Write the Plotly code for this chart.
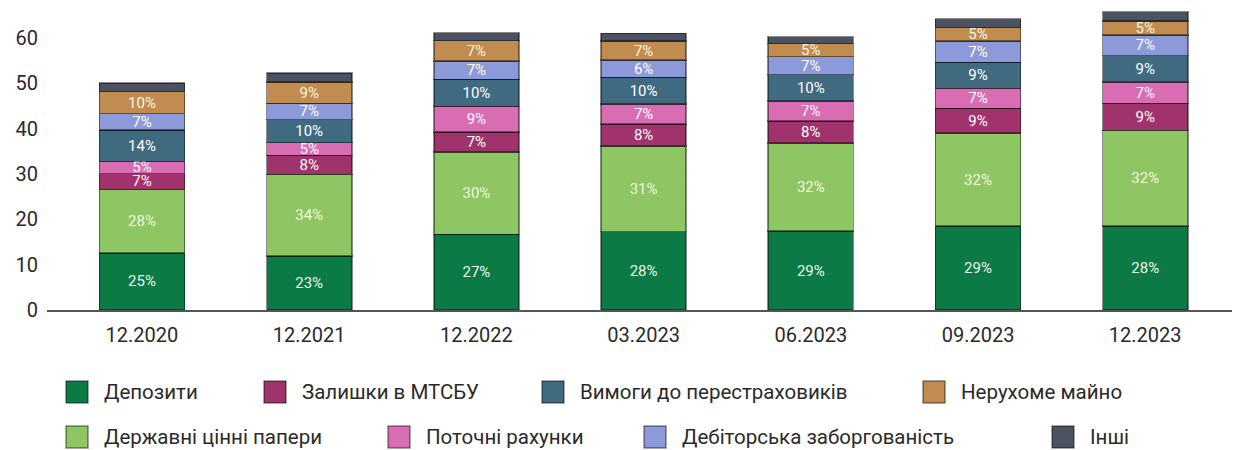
import plotly.graph_objects as go

# Insurance assets structure, bn UAH
periods = ["12.2020", "12.2021", "12.2022", "03.2023", "06.2023", "09.2023", "12.2023"]

deposits = [12.6, 11.9, 16.7, 17.3, 17.4, 18.5, 18.5]
gov_securities = [14.0, 18.0, 18.2, 18.9, 19.4, 20.5, 21.1]
mtsbu_balances = [3.5, 4.2, 4.4, 4.8, 4.9, 5.5, 6.0]
current_accounts = [2.7, 2.8, 5.6, 4.4, 4.4, 4.4, 4.7]
reinsurer_claims = [6.9, 5.1, 6.0, 5.9, 5.8, 5.7, 5.8]
receivables = [3.6, 3.6, 4.0, 3.8, 4.0, 4.7, 4.6]
real_estate = [4.9, 4.7, 4.5, 4.2, 2.9, 3.0, 3.1]
other = [1.9, 2.0, 1.8, 1.7, 1.5, 2.0, 2.0]

series = [
    ("Депозити", deposits, "#0c7a45", "#eaf7ea", True),
    ("Державні цінні папери", gov_securities, "#8dc663", "#f3f8dc", True),
    ("Залишки в МТСБУ", mtsbu_balances, "#a0336b", "#ffffff", True),
    ("Поточні рахунки", current_accounts, "#d86db3", "#ffffff", True),
    ("Вимоги до перестраховиків", reinsurer_claims, "#3f6a80", "#ffffff", True),
    ("Дебіторська заборгованість", receivables, "#8d9ad9", "#ffffff", True),
    ("Нерухоме майно", real_estate, "#c08c50", "#fff6e0", True),
    ("Інші", other, "#4b5262", "#ffffff", False),
]

totals = [sum(s[1][i] for s in series) for i in range(len(periods))]

FONT = "Roboto"
fig = go.Figure()
for name, vals, color, tcolor, labelled in series:
    text = [f"{round(v / t * 100)}%" for v, t in zip(vals, totals)] if labelled else None
    fig.add_trace(go.Bar(
        x=periods, y=vals, name=name, width=0.51,
        marker=dict(color=color, line=dict(color="rgba(0,0,0,0.45)", width=1.5)),
        text=text, textposition="inside" if labelled else "none",
        insidetextanchor="middle", textangle=0,
        insidetextfont=dict(family=FONT, size=15, color=tcolor),
        showlegend=False, hoverinfo="x+y+name",
    ))

# plot area geometry (pixels)
L, R, T, B = 47, 5, 6, 140
W, H = 1237, 450
pw, ph = W - L - R, H - T - B

def px_x(x):
    return (x - L) / pw

def px_y(y):
    return (H - B - y) / ph

# legend: two rows of colour squares with captions
legend_rows = [
    [(0, 66), (2, 264), (4, 542), (6, 923)],
    [(1, 66), (3, 388), (5, 644), (7, 1052)],
]
row_y = [392, 437]
shapes, annotations = [], []
for row, cy in zip(legend_rows, row_y):
    for idx, x0 in row:
        name, _, color, _, _ = series[idx]
        shapes.append(dict(
            type="rect", xref="paper", yref="paper",
            x0=px_x(x0), x1=px_x(x0 + 22), y0=px_y(cy + 11), y1=px_y(cy - 11),
            fillcolor=color, line=dict(color="rgba(0,0,0,0.45)", width=1.5),
        ))
        annotations.append(dict(
            xref="paper", yref="paper", x=px_x(x0 + 36), y=px_y(cy),
            text=name, showarrow=False, xanchor="left", yanchor="middle",
            font=dict(family=FONT, size=20.5, color="#2a2a2a"),
        ))

fig.update_layout(
    barmode="stack",
    width=W, height=H,
    margin=dict(l=L, r=R, t=T, b=B, autoexpand=False),
    paper_bgcolor="white", plot_bgcolor="white",
    font=dict(family=FONT, color="#2a2a2a"),
    xaxis=dict(
        range=[-0.568, 6.519], showgrid=False, ticks="",
        showline=True, linecolor="#555555", linewidth=1.5,
        tickfont=dict(family=FONT, size=20, color="#2a2a2a"),
        ticklabelstandoff=6,
    ),
    yaxis=dict(
        range=[0, 67.06], tickvals=[0, 10, 20, 30, 40, 50, 60],
        showgrid=False, zeroline=False, showline=False, ticks="",
        tickfont=dict(family=FONT, size=20, color="#2a2a2a"),
        ticklabelstandoff=8,
    ),
    uniformtext=dict(mode="show", minsize=15),
    shapes=shapes, annotations=annotations,
)

fig.write_html("out.html")
